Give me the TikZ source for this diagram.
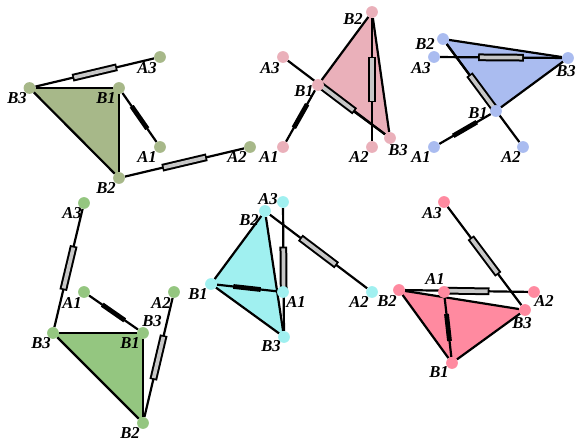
\documentclass[tikz,border=0pt]{standalone}
\usepackage{fontspec}
\setmainfont{Liberation Serif}
\usepackage{xcolor}
\usetikzlibrary{calc, backgrounds}

\definecolor{olivec}{RGB}{167,184,137}
\definecolor{rosec}{RGB}{234,176,186}
\definecolor{bluec}{RGB}{170,188,240}
\definecolor{greenc}{RGB}{148,198,128}
\definecolor{cyanc}{RGB}{160,240,240}
\definecolor{redc}{RGB}{255,138,160}

\begin{document}
\begin{tikzpicture}[x=0.75pt, y=-0.75pt,
  joint/.style={circle, inner sep=0pt, minimum size=8.8pt},
  lab/.style={inner sep=0pt, font=\fontsize{12.5}{12.5}\selectfont\bfseries\itshape},
  leg/.style={line width=1.65pt, black},
  tubeout/.style={line width=5.8pt, black},
  tubein/.style={line width=2.8pt, black!22, shorten <=1.3pt, shorten >=1.3pt},
  tubedark/.style={line width=3.6pt, black}
]
  \useasboundingbox (0,0) rectangle (581,445);
  % Olive platform
  \foreach \n/\x/\y/\lx/\ly in {A1/160/147/147/157, A2/250/147/237/157, A3/160/57/147/68, B1/119/88/106/98, B2/119/178/106/188, B3/29.5/88/17/98} {
    \node[joint, fill=olivec] (o\n) at (\x,\y) {};
    \node[lab] (o\n-t) at (\lx,\ly) {\n};
  }
  % Rose platform
  \foreach \n/\x/\y/\lx/\ly in {A1/283/147/269/157, A2/372/147/359/157, A3/283/57/270/68, B1/318/85/304/91, B2/372/12/353/19, B3/390/138/398/150} {
    \node[joint, fill=rosec] (r\n) at (\x,\y) {};
    \node[lab] (r\n-t) at (\lx,\ly) {\n};
  }
  % Blue platform
  \foreach \n/\x/\y/\lx/\ly in {A1/434/147/421/157, A2/523/147/511/157, A3/434/57/421/68, B1/496/111/478/113, B2/443/39/425/44, B3/568/58/566/71} {
    \node[joint, fill=bluec] (b\n) at (\x,\y) {};
    \node[lab] (b\n-t) at (\lx,\ly) {\n};
  }
  % Green platform
  \foreach \n/\x/\y/\lx/\ly in {A1/84/292/72/303, A2/174/292/161/303, A3/84/203/72/213, B1/143/333/130/343, B2/143/423/130/433, B3/53/333/41/343} {
    \node[joint, fill=greenc] (g\n) at (\x,\y) {};
    \node[lab] (g\n-t) at (\lx,\ly) {\n};
  }
  \node[lab] (gextra) at (152,321) {B3};
  % Cyan platform
  \foreach \n/\x/\y/\lx/\ly in {A1/283/292/296/302, A2/372/292/359/302, A3/283/202/268/199, B1/211/284/198/294, B2/265/211/249/220, B3/284/337/271/346} {
    \node[joint, fill=cyanc] (c\n) at (\x,\y) {};
    \node[lab] (c\n-t) at (\lx,\ly) {\n};
  }
  % Red platform
  \foreach \n/\x/\y/\lx/\ly in {A1/444/292/435/279, A2/534/292/544/301, A3/444/202/432/213, B1/452/363/439/372, B2/399/290/387/301, B3/525/310/522/323} {
    \node[joint, fill=redc] (d\n) at (\x,\y) {};
    \node[lab] (d\n-t) at (\lx,\ly) {\n};
  }

  \begin{scope}[on background layer]
    \foreach \p/\c in {o/olivec, r/rosec, b/bluec, g/greenc, c/cyanc, d/redc} {
      % Triangle
      \fill[\c] (\p B1.center) -- (\p B2.center) -- (\p B3.center) -- cycle;
      \draw[leg] (\p B1) -- (\p B2);
      \draw[leg] (\p B2) -- (\p B3);
      \draw[leg] (\p B3) -- (\p B1);
      % Legs
      \draw[leg] (\p A1) -- (\p B1);
      \draw[leg] (\p A2) -- (\p B2);
      \draw[leg] (\p A3) -- (\p B3);
      % Tubes
      \draw[tubedark] ($(\p A1)!.31!(\p B1)$) -- ($(\p A1)!.69!(\p B1)$);
      \foreach \k in {2,3} {
        \draw[tubeout] ($(\p A\k)!.33!(\p B\k)$) -- ($(\p A\k)!.67!(\p B\k)$);
        \draw[tubein] ($(\p A\k)!.33!(\p B\k)$) -- ($(\p A\k)!.67!(\p B\k)$);
      }
    }
  \end{scope}
\end{tikzpicture}
\end{document}
